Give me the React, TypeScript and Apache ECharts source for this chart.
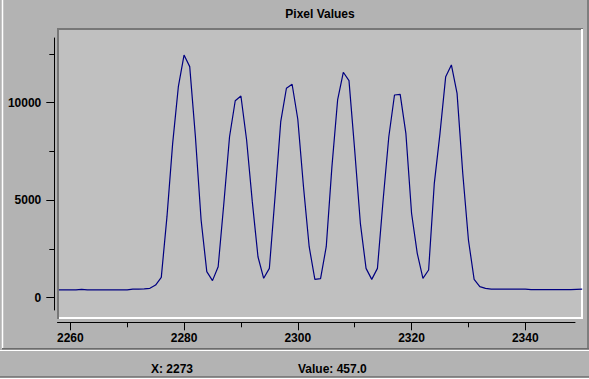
import React, { useEffect, useRef } from "react";
import * as echarts from "echarts";

// ---- data ----
const xStart = 2258;
const pixelValues: number[] = [
  400, 400, 400, 400, 430, 400, 400, 400, 400, 400, // 2258-2267
  400, 400, 400, 440, 440, 457, 480, 650, 1045, 4155, // 2268-2277
  7915, 10820, 12445, 11850, 8255, 3985, 1335, 875, 1590, 4840, // 2278-2287
  8255, 10100, 10345, 8085, 4925, 2100, 995, 1505, 5180, 9025, // 2288-2297
  10740, 10945, 9150, 5690, 2615, 940, 975, 2615, 6720, 10140, // 2298-2307
  11560, 11130, 7575, 3815, 1505, 940, 1505, 5010, 8255, 10395, // 2308-2317
  10430, 8430, 4330, 2275, 995, 1420, 5865, 8430, 11335, 11935, // 2318-2327
  10480, 6380, 2960, 940, 565, 480, 440, 440, 440, 440, // 2328-2337
  440, 440, 440, 415, 415, 415, 415, 415, 415, 415, // 2338-2347
  415, 430, 440, // 2348-2350
];
const xMajorTicks = [2260, 2280, 2300, 2320, 2340];
const xMinorTicks = [2270, 2290, 2310, 2330];
const yMajorTicks = [0, 5000, 10000];
const yMinorTicks = [2500, 7500, 12500];
const titleText = "Pixel Values";
const statusX = 2273;

const FONT = "'Liberation Sans', Arial, Helvetica, sans-serif";

export default function App() {
  const ref = useRef<HTMLDivElement>(null);

  useEffect(() => {
    if (!ref.current) return;
    const chart = echarts.init(ref.current, null, { renderer: "svg" });
    const seriesData = pixelValues.map((v, i) => [xStart + i, v]);
    const statusValue = pixelValues[statusX - xStart];

    const labelStyle = {
      fontFamily: FONT,
      fontWeight: "bold" as const,
      fontSize: 12,
      color: "#000",
    };
    const dark = "#6c6c6c";

    chart.setOption({
      animation: false,
      backgroundColor: "#b3b3b3",
      grid: [
        { left: 58.9, top: 30, width: 523.3, height: 286, containLabel: false },
        { left: 57.5, top: 38, width: 517.5, height: 272, containLabel: false },
      ],
      xAxis: [
        { gridIndex: 0, type: "value", min: 2258, max: 2350, show: false },
        {
          gridIndex: 1,
          type: "value",
          min: 2257.75,
          max: 2348.74,
          position: "bottom",
          offset: 12.3,
          axisLine: { show: true, onZero: false, lineStyle: { color: "#000", width: 1 } },
          axisTick: { show: true, length: 8, customValues: xMajorTicks, lineStyle: { color: "#000" } },
          axisLabel: { show: true, customValues: xMajorTicks, margin: 10, ...labelStyle, formatter: (v: number) => String(v) },
          splitLine: { show: false },
        },
        {
          gridIndex: 1,
          type: "value",
          min: 2257.75,
          max: 2348.74,
          position: "bottom",
          offset: 12.3,
          axisLine: { show: false, onZero: false },
          axisTick: { show: true, length: 5, customValues: xMinorTicks, lineStyle: { color: "#000" } },
          axisLabel: { show: false },
          splitLine: { show: false },
        },
      ],
      yAxis: [
        { gridIndex: 0, type: "value", min: -938.5, max: 13728.2, show: false },
        {
          gridIndex: 1,
          type: "value",
          min: -631,
          max: 13318,
          position: "left",
          offset: 3.2,
          axisLine: { show: true, onZero: false, lineStyle: { color: "#000", width: 1 } },
          axisTick: { show: true, length: 8, customValues: yMajorTicks, lineStyle: { color: "#000" } },
          axisLabel: { show: true, customValues: yMajorTicks, margin: 13, ...labelStyle, formatter: (v: number) => String(v) },
          splitLine: { show: false },
        },
        {
          gridIndex: 1,
          type: "value",
          min: -631,
          max: 13318,
          position: "left",
          offset: 3.2,
          axisLine: { show: false, onZero: false },
          axisTick: { show: true, length: 5, customValues: yMinorTicks, lineStyle: { color: "#000" } },
          axisLabel: { show: false },
          splitLine: { show: false },
        },
      ],
      series: [
        {
          type: "line",
          xAxisIndex: 0,
          yAxisIndex: 0,
          data: seriesData,
          symbol: "none",
          showSymbol: false,
          lineStyle: { color: "#000080", width: 1.2 },
          z: 5,
        },
      ],
      graphic: [
        // plot background
        { type: "rect", z: -10, shape: { x: 57, y: 28, width: 526, height: 291 }, style: { fill: "#c0c0c0" } },
        // sunken frame
        { type: "line", z: -5, shape: { x1: 58, y1: 28, x2: 58, y2: 319 }, style: { stroke: "#777777", lineWidth: 2 } },
        { type: "line", z: -5, shape: { x1: 57, y1: 29, x2: 583, y2: 29 }, style: { stroke: "#777777", lineWidth: 2 } },
        { type: "line", z: -5, shape: { x1: 582, y1: 29, x2: 582, y2: 319 }, style: { stroke: "#ffffff", lineWidth: 2 } },
        { type: "line", z: -5, shape: { x1: 59, y1: 318, x2: 583, y2: 318 }, style: { stroke: "#ffffff", lineWidth: 2 } },
        // outer panel borders
        { type: "line", z: -5, shape: { x1: 2.5, y1: 0, x2: 2.5, y2: 349 }, style: { stroke: "#ffffff", lineWidth: 1.5 } },
        { type: "line", z: -5, shape: { x1: 588, y1: 0, x2: 588, y2: 349 }, style: { stroke: dark, lineWidth: 1.5 } },
        { type: "line", z: -5, shape: { x1: 2, y1: 348.8, x2: 589, y2: 348.8 }, style: { stroke: dark, lineWidth: 1.5 } },
        // status bar borders
        { type: "line", z: -5, shape: { x1: 0, y1: 350.5, x2: 589, y2: 350.5 }, style: { stroke: "#ffffff", lineWidth: 1.2 } },
        { type: "line", z: -5, shape: { x1: 0, y1: 376.8, x2: 589, y2: 376.8 }, style: { stroke: dark, lineWidth: 1.2 } },
        { type: "line", z: -5, shape: { x1: 0, y1: 378.5, x2: 589, y2: 378.5 }, style: { stroke: "#ffffff", lineWidth: 1 } },
        // title
        {
          type: "text",
          x: 320,
          y: 14.3,
          style: { text: titleText, font: `bold 12px ${FONT}`, fill: "#000", align: "center", verticalAlign: "middle" },
        },
        // status texts
        {
          type: "text",
          x: 151,
          y: 369,
          style: { text: `X: ${statusX}`, font: `bold 12px ${FONT}`, fill: "#000", align: "left", verticalAlign: "middle" },
        },
        {
          type: "text",
          x: 298,
          y: 369,
          style: { text: `Value: ${statusValue.toFixed(1)}`, font: `bold 12px ${FONT}`, fill: "#000", align: "left", verticalAlign: "middle" },
        },
      ],
    });

    return () => chart.dispose();
  }, []);

  return (
    <div
      ref={ref}
      style={{ position: "fixed", left: 0, top: 0, width: 589, height: 379 }}
    />
  );
}
